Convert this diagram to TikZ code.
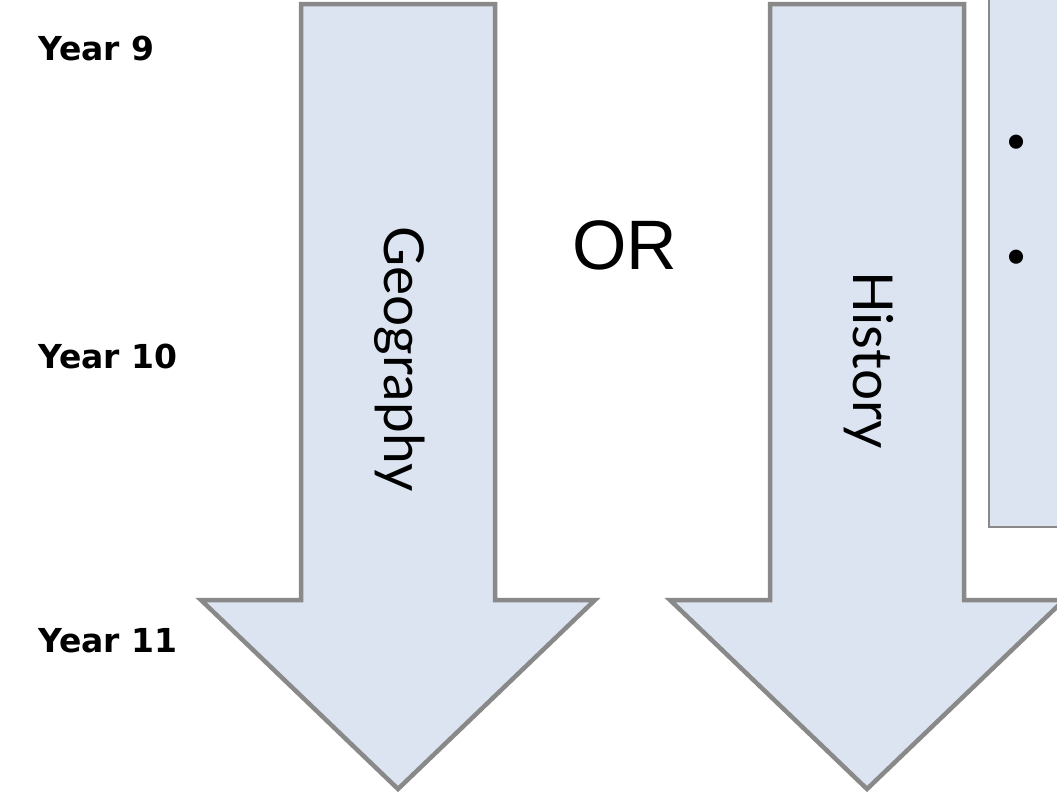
\documentclass[tikz,border=0pt]{standalone}
\usepackage{fontspec}
\setmainfont{Lato}
\newfontfamily\yearfont{DejaVu Sans}
\newfontfamily\orfont{Liberation Sans}

\newcommand{\varsw}{97}
\newcommand{\varhw}{197}
\newcommand{\vartop}{4}
\newcommand{\varbase}{600}
\newcommand{\vartip}{789}
\definecolor{mypale}{RGB}{219,228,240}
\definecolor{mygrey}{RGB}{137,137,137}

\tikzset{
  arrowbody/.style={draw=mygrey, line width=4.5pt, fill=mypale, line join=miter},
  yearlbl/.style={anchor=west, inner sep=0pt, font=\yearfont\fontsize{33}{33}\selectfont\bfseries},
  subjlbl/.style={rotate=-90, inner sep=0pt, font=\fontsize{55}{55}\selectfont}
}

\begin{document}
\begin{tikzpicture}[x=1pt,y=-1pt]
	\useasboundingbox (0,0) rectangle (1057,795);

	% info box, cut off at the right
	\draw [mygrey, line width=2pt, fill=mypale] (989,-10) rectangle (1090,527);
	\node [inner sep=0pt, font=\fontsize{38}{38}\selectfont] (bulleta) at (1017,144) {•};
	\node [inner sep=0pt, font=\fontsize{38}{38}\selectfont] (bulletb) at (1017,259) {•};

	% arrows
	\foreach \cx in {398,867}
		\draw [arrowbody] (\cx-\varsw,\vartop) -- (\cx+\varsw,\vartop) -- (\cx+\varsw,\varbase)
			-- (\cx+\varhw,\varbase) -- (\cx,\vartip) -- (\cx-\varhw,\varbase)
			-- (\cx-\varsw,\varbase) -- cycle;

	% captions
	\node [subjlbl] (geo) at (400,359) {Geography};
	\node [subjlbl] (hist) at (869,360) {History};
	\node [inner sep=0pt, font=\orfont\fontsize{70}{70}\selectfont] (or) at (625,245) {OR};
	\node [yearlbl] (y9) at (38,49) {Year 9};
	\node [yearlbl] (y10) at (38,356) {Year 10};
	\node [yearlbl] (y11) at (38,641) {Year 11};
\end{tikzpicture}
\end{document}
